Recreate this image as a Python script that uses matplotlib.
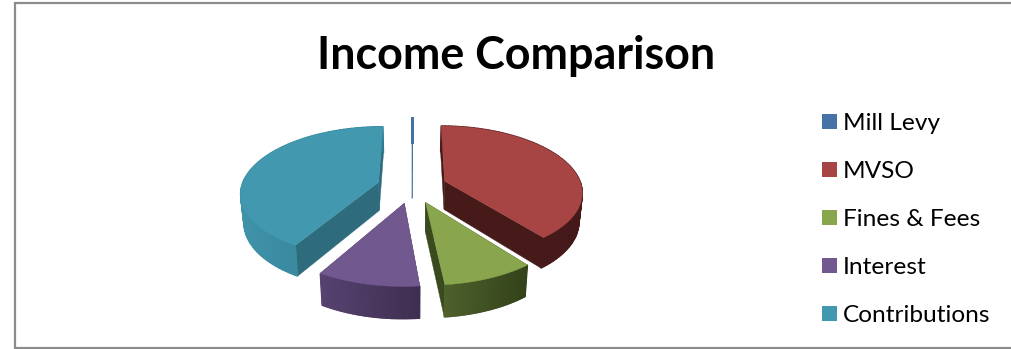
import matplotlib
matplotlib.use('Agg')
import matplotlib.pyplot as plt
import numpy as np
from matplotlib.colors import to_rgb
from matplotlib.patches import Rectangle

# income shares in percent, clockwise from twelve o'clock
categories = ['Mill Levy', 'MVSO', 'Fines & Fees', 'Interest', 'Contributions']
values = [0.1, 39.3, 9.0, 10.0, 41.6]

top_colors = ['#4572A7', '#A64543', '#89A54E', '#71588F', '#4198AF']
cut_colors = ['#4572A7', '#451A18', '#3A4A1F', '#3F2F52', '#2E6B7C']
# outer wall colour at the left and right end of each slice
wall_colors = [('#4572A7', '#4572A7'), ('#4A1C1A', '#45191A'), ('#4E602B', '#33421A'),
               ('#574270', '#3E2E50'), ('#3F92A8', '#2F7C91')]

# pie geometry in pixels
CX, CY = 412, 186.5
RX, RY = 137, 65
PERSP = 0.15
DEPTH = 28.5
EXPLODE = 0.255


def project(u, v, bottom=False):
    """Perspective projection of a point on the pie disc to pixel coordinates."""
    s = 1.0 / (1.0 + PERSP * v)
    x = RX * u * s
    y = -RY * v * s
    if bottom:
        x = x * 0.98
        y = y + DEPTH * s ** 0.6
    return CX + x, CY + y


def draw_slice(ax, start, end, top, cut, wall):
    mid = (start + end) / 2
    off_u, off_v = EXPLODE * np.sin(mid), EXPLODE * np.cos(mid)
    th = np.linspace(start, end, 80)
    rim_u = off_u + np.sin(th)
    rim_v = off_v + np.cos(th)

    # the two cut faces
    for a in (start, end):
        eu, ev = off_u + np.sin(a), off_v + np.cos(a)
        p = [project(off_u, off_v), project(eu, ev),
             project(eu, ev, True), project(off_u, off_v, True)]
        ax.fill(*zip(*p), color=cut, lw=0.3, zorder=2)

    # outer wall, split into strips for the shading
    tx, ty = project(rim_u, rim_v)
    bx, by = project(rim_u, rim_v, True)
    left, right = to_rgb(wall[0]), to_rgb(wall[1])
    x0, x1 = tx.min(), tx.max()
    for i in range(len(th) - 1):
        t = ((tx[i] + tx[i + 1]) / 2 - x0) / max(x1 - x0, 1e-6)
        c = [l + (r - l) * t for l, r in zip(left, right)]
        ax.fill([tx[i], tx[i + 1], bx[i + 1], bx[i]],
                [ty[i], ty[i + 1], by[i + 1], by[i]], color=c, lw=1.0, zorder=2)

    # top face
    ax0, ay0 = project(off_u, off_v)
    ax.fill(np.r_[ax0, tx], np.r_[ay0, ty], color=top, lw=0.3, zorder=2)


fig = plt.figure(figsize=(10.11, 3.49), dpi=100)
ax = fig.add_axes([0, 0, 1, 1])
ax.set_xlim(0, 1011)
ax.set_ylim(349, 0)
ax.axis('off')

# chart frame
ax.add_patch(Rectangle((14.5, 3), 1100, 344.5, fc='white', ec='#8C8C8C', lw=1.6, zorder=1))

ax.text(516, 56, 'Income Comparison', family='Lato', weight='bold', fontsize=32.3,
        ha='center', va='center', color='black')

fracs = np.array(values) / sum(values) * 2 * np.pi
ends = np.cumsum(fracs)
starts = ends - fracs

# paint from the back of the pie to the front
order = np.argsort(-np.cos((starts + ends) / 2))
for i in order:
    draw_slice(ax, starts[i], ends[i], top_colors[i], cut_colors[i], wall_colors[i])

# legend
for i, name in enumerate(categories):
    y = 121 + 48 * i
    ax.add_patch(Rectangle((822, y - 7.5), 15, 15, fc=top_colors[i], ec='none'))
    ax.text(843, y + 2, name, family='Lato', fontsize=17.6, ha='left', va='center', color='black')

fig.savefig('out.png', dpi=100)
